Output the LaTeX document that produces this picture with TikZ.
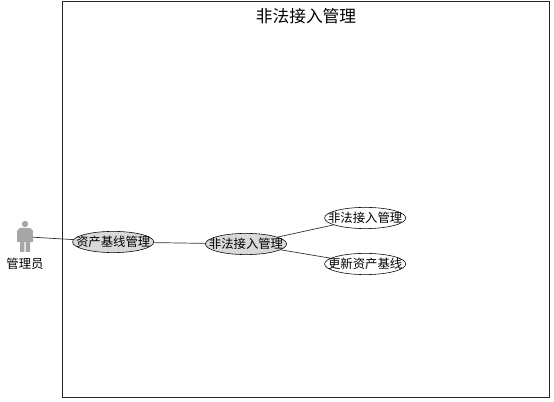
\documentclass[tikz,border=0pt]{standalone}
\usepackage{fontspec}
\setmainfont{Noto Sans CJK SC}
\usetikzlibrary{shapes.geometric}
\tikzset{
    usecase/.style={draw=black,ellipse,inner sep=0pt,minimum width=2.03cm,minimum height=0.53cm,font=\fontsize{8.8}{10}\selectfont},
    parentcase/.style={usecase,fill=black!15},
    leafcase/.style={usecase,fill=white},
    link/.style={draw=black!80!white,line width=0.5pt}
}
\newcommand{\casetext}[1]{\makebox[0pt]{#1}}

\begin{document}
\begin{tikzpicture}
    \useasboundingbox (0,0) rectangle (13.85,10.05);
    \draw[line width=0.6pt,draw=black!85!white] (1.55,0.125) rectangle (13.725,10.02);
    \node (title) at (7.65,9.65) {\fontsize{11.9}{13}\selectfont 非法接入管理};

    % the actor
    \fill[black!35] (0.625,4.45) circle (0.08);
    \fill[black!35] (0.43,4) -- (0.43,4.28) -- (0.5,4.35) -- (0.75,4.35) -- (0.82,4.28) -- (0.82,4) -- (0.75,4) -- (0.75,3.75) -- (0.64,3.75) -- (0.64,4) -- (0.61,4) -- (0.61,3.75) -- (0.5,3.75) -- (0.5,4) -- cycle;
    \coordinate (actorhand) at (0.82,4.12);
    \node[font=\fontsize{8.8}{10}\selectfont] (actorname) at (0.625,3.45) {管理员};

    \node[parentcase] (asset) at (2.83,4)   {\casetext{资产基线管理}};
    \node[parentcase] (access) at (6.15,3.95) {\casetext{非法接入管理}};
    \node[leafcase]   (illegal) at (9.13,4.6) {\casetext{非法接入管理}};
    \node[leafcase]   (update) at (9.13,3.45) {\casetext{更新资产基线}};

    \draw[link] (actorhand) -- (asset);
    \draw[link] (asset) -- (access);
    \draw[link] (access) -- (illegal);
    \draw[link] (access) -- (update);
\end{tikzpicture}
\end{document}
